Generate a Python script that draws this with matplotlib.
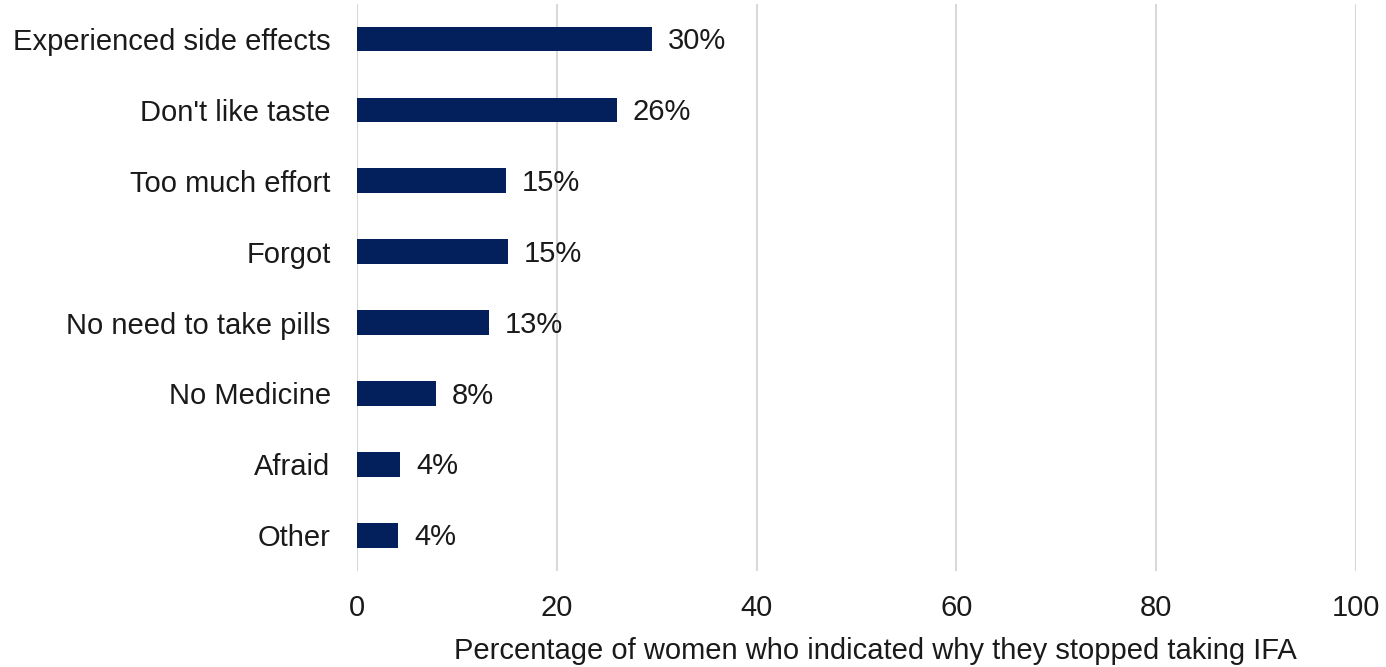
import matplotlib.pyplot as plt

reasons = ["Experienced side effects", "Don't like taste", "Too much effort", "Forgot",
           "No need to take pills", "No Medicine", "Afraid", "Other"]
values = [29.5, 26.0, 14.9, 15.1, 13.2, 7.9, 4.3, 4.1]
labels = ["30%", "26%", "15%", "15%", "13%", "8%", "4%", "4%"]

plt.rcParams['font.family'] = ['Liberation Sans', 'DejaVu Sans']

fig = plt.figure(figsize=(13.86, 6.67), dpi=100)
ax = fig.add_axes([0.2576, 0.1445, 0.7208, 0.8501])

ypos = list(range(len(reasons)))[::-1]
ax.barh(ypos, values, height=0.35, color='#03205c', zorder=3)
for y, v, lab in zip(ypos, values, labels):
    ax.annotate(lab, (v, y), xytext=(11.5, -1.5), textcoords='offset points',
                va='center', ha='left', fontsize=21, color='#1a1a1a')

ax.set_xlim(0, 100)
ax.set_ylim(-0.5, len(reasons) - 0.5)
ax.set_xticks([0, 20, 40, 60, 80, 100])
ax.set_yticks(ypos)
ax.set_yticklabels(reasons)
ax.tick_params(axis='both', length=0, labelsize=21, labelcolor='#1a1a1a')
ax.tick_params(axis='y', pad=19)
ax.tick_params(axis='x', pad=17)
ax.grid(axis='x', color='#d9d9d9', linewidth=1.5, zorder=0)
for s in ax.spines.values():
    s.set_visible(False)

ax.set_xlabel("Percentage of women who indicated why they stopped taking IFA",
              fontsize=21, color='#1a1a1a')
ax.xaxis.set_label_coords(0.519, -0.117)

fig.savefig("out.png", dpi=100)
